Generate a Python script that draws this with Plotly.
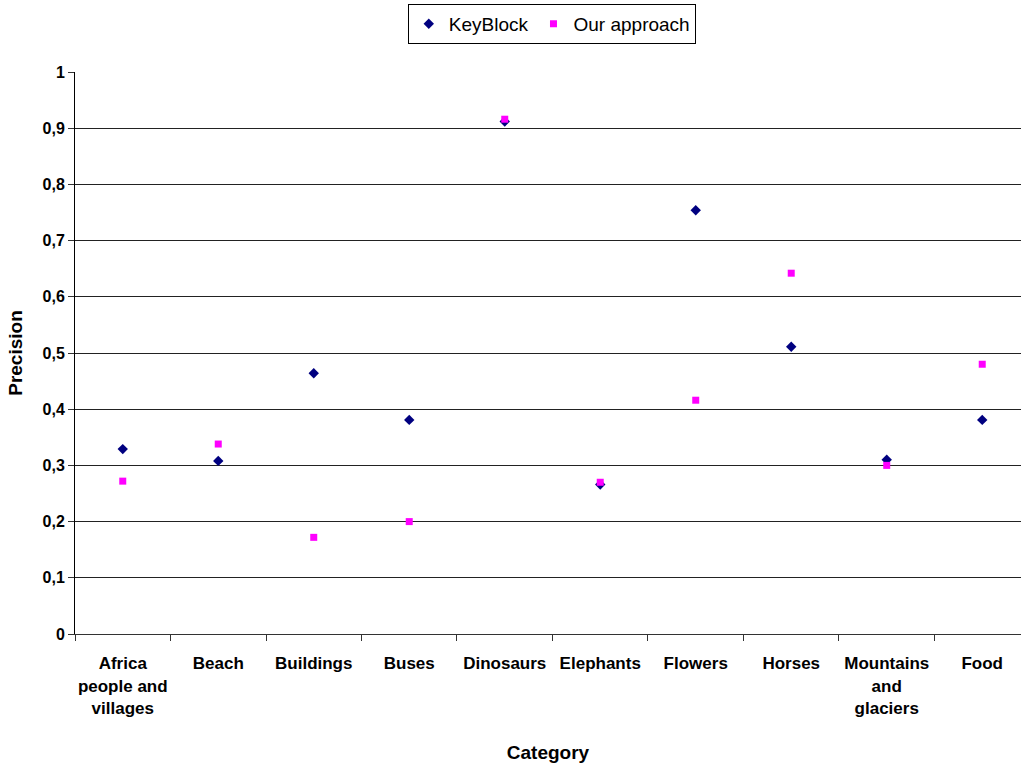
import plotly.graph_objects as go

# Image categories (line breaks mark where the tick labels wrap)
categories = [
    "Africa<br>people and<br>villages",
    "Beach",
    "Buildings",
    "Buses",
    "Dinosaurs",
    "Elephants",
    "Flowers",
    "Horses",
    "Mountains<br>and<br>glaciers",
    "Food",
]

# Precision per category
keyblock = [0.329, 0.308, 0.464, 0.381, 0.912, 0.266, 0.754, 0.511, 0.310, 0.381]
our_approach = [0.272, 0.338, 0.172, 0.200, 0.916, 0.270, 0.416, 0.642, 0.300, 0.480]

y_ticks = [0, 0.1, 0.2, 0.3, 0.4, 0.5, 0.6, 0.7, 0.8, 0.9, 1]

FONT = "Liberation Sans, Arial, sans-serif"

fig = go.Figure()
fig.add_trace(go.Scatter(
    x=categories, y=keyblock, mode="markers", name="KeyBlock",
    marker=dict(symbol="diamond", size=8, color="#000080"),
))
fig.add_trace(go.Scatter(
    x=categories, y=our_approach, mode="markers", name="Our approach",
    marker=dict(symbol="square", size=7, color="#FF00FF"),
))

fig.update_layout(
    width=1021, height=769,
    margin=dict(l=75, r=0, t=72, b=135),
    paper_bgcolor="white", plot_bgcolor="white",
    separators=",.",
    font=dict(family=FONT, color="black"),
    showlegend=True,
    legend=dict(
        orientation="h", x=0.504, xanchor="center",
        yref="container", y=0.995, yanchor="top",
        bgcolor="white", bordercolor="black", borderwidth=1,
        font=dict(family=FONT, size=19, color="black"),
        itemwidth=30,
    ),
)

fig.update_xaxes(
    type="category",
    range=[-0.5, 9.406],
    tickson="boundaries",
    tickangle=0,
    ticks="outside", ticklen=6, tickcolor="#333",
    ticklabelstandoff=14,
    showline=True, linecolor="#333", linewidth=1,
    showgrid=False,
    tickfont=dict(family=FONT, size=17, color="black", weight="bold"),
    title=dict(text="Category", font=dict(family=FONT, size=19, weight="bold"), standoff=29),
    automargin=False,
)
fig.update_yaxes(
    range=[0, 1],
    tickvals=y_ticks,
    ticks="outside", ticklen=6, tickcolor="#333",
    showline=True, linecolor="black", linewidth=1,
    showgrid=True, gridcolor="#222", gridwidth=1,
    zeroline=False,
    tickfont=dict(family=FONT, size=16, color="black", weight="bold"),
    title=dict(text="Precision", font=dict(family=FONT, size=19, weight="bold"), standoff=14),
    automargin=False,
)

fig.write_html("out.html")
